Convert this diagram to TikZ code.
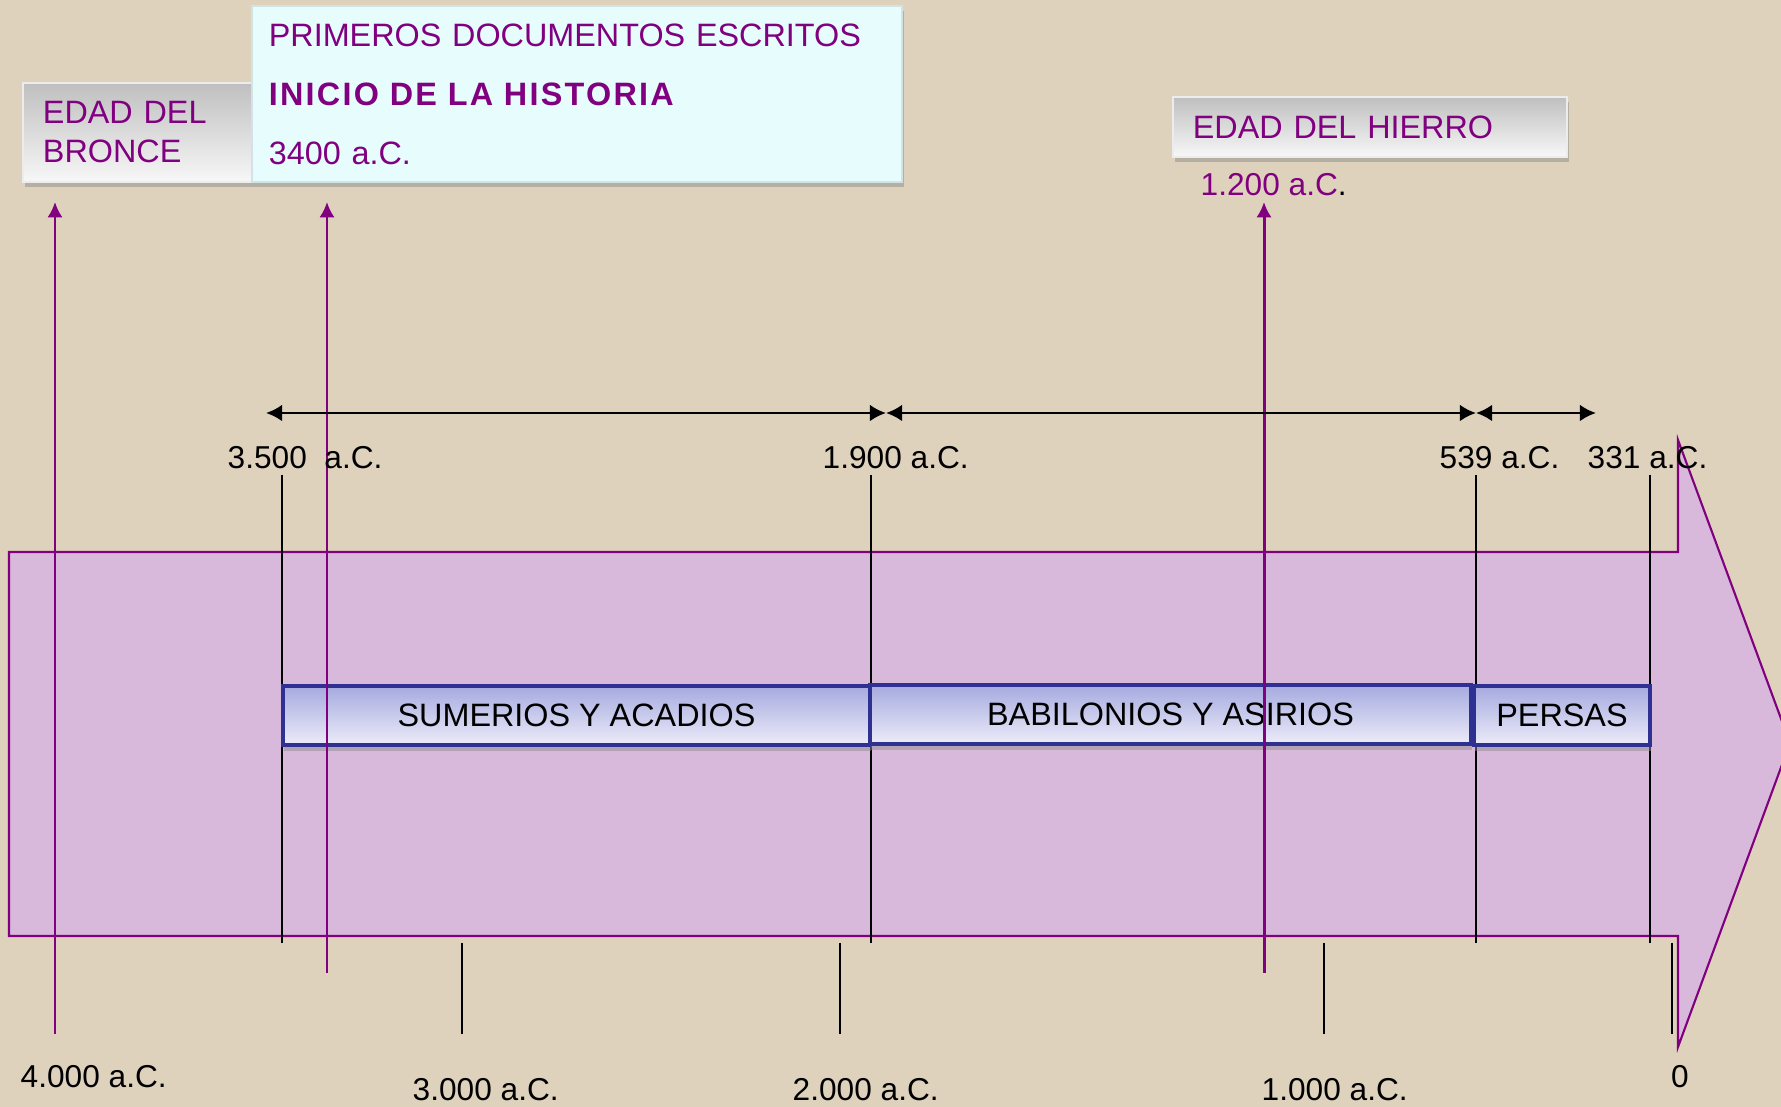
\documentclass[tikz,border=0pt]{standalone}
\usepackage{fontspec}
\setmainfont{Liberation Sans}
\usetikzlibrary{arrows, arrows.meta, positioning, calc, shadows}

\definecolor{papel}{HTML}{DED2BC}
\definecolor{lila}{HTML}{D9B9DB}
\definecolor{morado}{HTML}{800080}
\definecolor{marino}{HTML}{2E3192}
\definecolor{cian}{HTML}{E6FCFD}
\definecolor{azultop}{HTML}{A6AADF}
\definecolor{azulbot}{HTML}{ECECF9}

\tikzset{
	fecha/.style={font=\fontsize{9}{11}\selectfont, inner sep=0pt, anchor=west},
	edad/.style={draw=gray!15, line width=0.4pt, top color=gray!50, bottom color=gray!6,
		text=morado, font=\fontsize{9.2}{11.1}\selectfont, inner xsep=0.2cm, inner ysep=0pt,
		drop shadow={shadow xshift=0.02cm, shadow yshift=-0.05cm, fill=black!45}},
	doc/.style={draw=cian!80!gray, line width=0.4pt, fill=cian, text=morado,
		font=\fontsize{9.2}{16.8}\selectfont, inner xsep=0.17cm, inner ysep=0pt,
		drop shadow={shadow xshift=0.02cm, shadow yshift=-0.05cm, fill=black!45}},
	pueblo/.style={draw=marino, line width=1pt, top color=azultop, bottom color=azulbot,
		minimum height=0.59cm, inner sep=0pt, font=\fontsize{9.2}{11}\selectfont,
		drop shadow={shadow xshift=0.01cm, shadow yshift=-0.06cm, fill=black!45}},
	hito/.style={morado, line width=0.85pt, -{Latex[length=4.4pt,width=4.4pt]}},
	tramo/.style={line width=0.75pt, {Latex[length=4.6pt,width=4.8pt]}-{Latex[length=4.6pt,width=4.8pt]}},
	raya/.style={line width=0.6pt}
}

\begin{document}
\begin{tikzpicture}[x=0.01cm, y=-0.01cm]
	\useasboundingbox (0,0) rectangle (1781,1107);
	\clip (0,0) rectangle (1781,1107);
	\fill[papel] (0,0) rectangle (1781,1107);

	\filldraw[fill=lila, draw=morado, line width=0.6pt]
		(9,552) -- (1678,552) -- (1678,440) -- (1790,743) -- (1678,1047) -- (1678,936) -- (9,936) -- cycle;

	\foreach \x in {282,871,1476,1650}
		\draw[raya] (\x,475) -- (\x,943);
	\foreach \x in {462,840,1324,1672}
		\draw[raya] (\x,943) -- (\x,1034);

	\node[pueblo, minimum width=5.87cm] (sum) at (576.5,715.5) {SUMERIOS Y ACADIOS};
	\node[pueblo, minimum width=6.01cm] (bab) at (1170.5,714.5) {BABILONIOS Y ASIRIOS};
	\node[pueblo, minimum width=1.76cm] (per) at (1562,715.5) {PERSAS};

	\coordinate (p1) at (55,1034);  \coordinate (q1) at (55,202);
	\coordinate (p2) at (327,973);  \coordinate (q2) at (327,202);
	\coordinate (p3) at (1264,973); \coordinate (q3) at (1264,202);
	\foreach \i in {1,2,3}
		\draw[hito] (p\i) -- (q\i);

	\node[edad, minimum width=2.29cm, minimum height=0.99cm, text width=1.89cm, align=left]
		(bronce) at (137.5,132.5) {EDAD DEL\\BRONCE};
	\node[doc, minimum height=1.76cm, text width=6.16cm, align=left]
		(escritura) at (577,94) {PRIMEROS DOCUMENTOS ESCRITOS\\{\bfseries\addfontfeature{LetterSpace=7}INICIO DE LA HISTORIA}\\3400 a.C.};
	\node[edad, minimum width=3.94cm, minimum height=0.60cm, text width=3.54cm, align=left]
		(hierro) at (1370,127) {EDAD DEL HIERRO};
	\node[fecha, text=morado] (f1200) at (1200,185) {1.200 a.C{\color{black}.}};

	\coordinate (h0) at (266,413);
	\coordinate (h1) at (886,413);
	\coordinate (h2) at (1476,413);
	\coordinate (h3) at (1596,413);
	\foreach \from/\to in {h0/h1,h1/h2,h2/h3}
		\draw[tramo] (\from) -- (\to);

	\node[fecha] (f3500) at (227,458) {3.500\ \ a.C.};
	\node[fecha] (f1900) at (822,458) {1.900 a.C.};
	\node[fecha] (f539) at (1439,458) {539 a.C.};
	\node[fecha] (f331) at (1587,458) {331 a.C.};

	\node[fecha] (f4000) at (20,1077) {4.000 a.C.};
	\node[fecha] (f3000) at (412,1090) {3.000 a.C.};
	\node[fecha] (f2000) at (792,1090) {2.000 a.C.};
	\node[fecha] (f1000) at (1261,1090) {1.000 a.C.};
	\node[fecha, anchor=center] (f0) at (1680,1077) {0};
\end{tikzpicture}
\end{document}
